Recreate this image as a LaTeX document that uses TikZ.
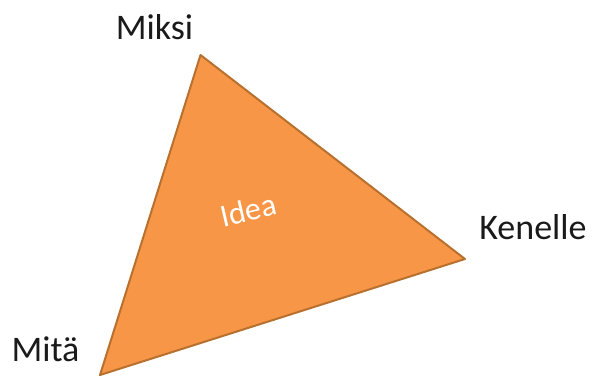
\documentclass[tikz,border=0pt]{standalone}
\usepackage{fontspec}
\setmainfont{Carlito}
\definecolor{triFill}{HTML}{F79646}
\definecolor{triEdge}{HTML}{B8702F}
\definecolor{labelText}{HTML}{1A1A1A}
\begin{document}
\begin{tikzpicture}[x=1pt,y=-1pt,
  vlabel/.style={font=\fontsize{36}{40}\selectfont, text=labelText, inner sep=0pt, anchor=base},
  tri/.style={fill=triFill, draw=triEdge, line width=2pt, line join=round}]
\useasboundingbox (0,0) rectangle (595,376);
\coordinate (top) at (200.5,55);
\coordinate (right) at (465,259);
\coordinate (bottom) at (100,375);
\draw[tri] (top) -- (right) -- (bottom) -- cycle;
\node[vlabel] (miksi) at (154.5,39) {Miksi};
\node[vlabel] (kenelle) at (533,239) {Kenelle};
\node[vlabel] (mita) at (45.5,361) {Mitä};
\node[font=\fontsize{32}{36}\selectfont, text=white, rotate=13, inner sep=0pt] (idea) at (248.5,210) {Idea};
\end{tikzpicture}
\end{document}
